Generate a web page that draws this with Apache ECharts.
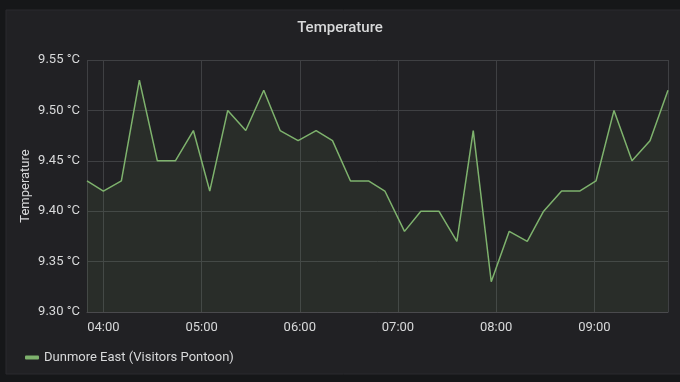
<!DOCTYPE html>
<html>
<head>
<meta charset="utf-8">
<script src="https://cdn.jsdelivr.net/npm/echarts@6/dist/echarts.min.js"></script>
<style>
html,body{margin:0;padding:0;background:#161719;}
#chart{width:680px;height:382px;}
</style>
</head>
<body>
<div id="chart"></div>
<script>
var times = ['03:50','04:00','04:11','04:22','04:33','04:44','04:55','05:05','05:16','05:27','05:38','05:48','05:59','06:10','06:20','06:31','06:42','06:52','07:04','07:14','07:25','07:36','07:46','07:57','08:08','08:19','08:29','08:40','08:51','09:01','09:12','09:23','09:34','09:45'];
var temps = [9.43,9.42,9.43,9.53,9.45,9.45,9.48,9.42,9.50,9.48,9.52,9.48,9.47,9.48,9.47,9.43,9.43,9.42,9.38,9.40,9.40,9.37,9.48,9.33,9.38,9.37,9.40,9.42,9.42,9.43,9.50,9.45,9.47,9.52];
var seriesName = 'Dunmore East (Visitors Pontoon)';
var yTicks = [9.30, 9.55, 0.05];

function toTs(t){
  var p = t.split(':');
  return new Date(2020,0,1,+p[0],+p[1]).getTime();
}
var data = times.map(function(t,i){ return [toTs(t), temps[i]]; });

var chart = echarts.init(document.getElementById('chart'), null, {renderer:'canvas'});
var txt = '#d8d9da';
chart.setOption({
  backgroundColor: '#161719',
  animation: false,
  textStyle: {fontFamily: 'Roboto'},
  graphic: [{
    type: 'rect', z: -10, silent: true,
    shape: {x: 6, y: 10, width: 690, height: 364},
    style: {fill: '#212124', stroke: '#2a2b2e', lineWidth: 1}
  }],
  title: {
    text: 'Temperature', left: 'center', top: 16,
    textStyle: {color: txt, fontSize: 15, fontWeight: 500, fontFamily: 'Roboto'}
  },
  legend: {
    left: 20, top: 346, itemWidth: 14, itemHeight: 4, itemGap: 10,
    icon: 'roundRect',
    textStyle: {color: txt, fontSize: 13, fontFamily: 'Roboto'},
    data: [seriesName]
  },
  grid: {left: 87, right: 12, top: 60, bottom: 70},
  xAxis: {
    type: 'time',
    min: toTs(times[0]), max: toTs(times[times.length-1]),
    minInterval: 3600000, maxInterval: 3600000,
    axisLine: {lineStyle: {color: '#4a4a4d'}},
    axisTick: {show: false},
    axisLabel: {color: txt, fontSize: 13, margin: 9, formatter: '{HH}:{mm}', showMinLabel: false, showMaxLabel: false},
    splitLine: {show: true, lineStyle: {color: '#3f4043', width: 1}}
  },
  yAxis: {
    type: 'value', min: yTicks[0], max: yTicks[1], interval: yTicks[2],
    name: 'Temperature', nameLocation: 'middle', nameGap: 55, nameRotate: 90,
    nameMoveOverlap: false,
    nameTextStyle: {color: txt, fontSize: 13},
    axisLine: {show: false}, axisTick: {show: false},
    axisLabel: {color: txt, fontSize: 13, margin: 7, formatter: function(v){ return v.toFixed(2) + ' °C'; }},
    splitLine: {lineStyle: {color: '#3f4043', width: 1}}
  },
  series: [{
    name: seriesName, type: 'line', data: data,
    showSymbol: false, symbol: 'none',
    color: '#7eb26d',
    lineStyle: {color: '#7eb26d', width: 1.5},
    areaStyle: {color: 'rgba(126,178,109,0.12)'}
  }]
});
</script>
</body>
</html>
